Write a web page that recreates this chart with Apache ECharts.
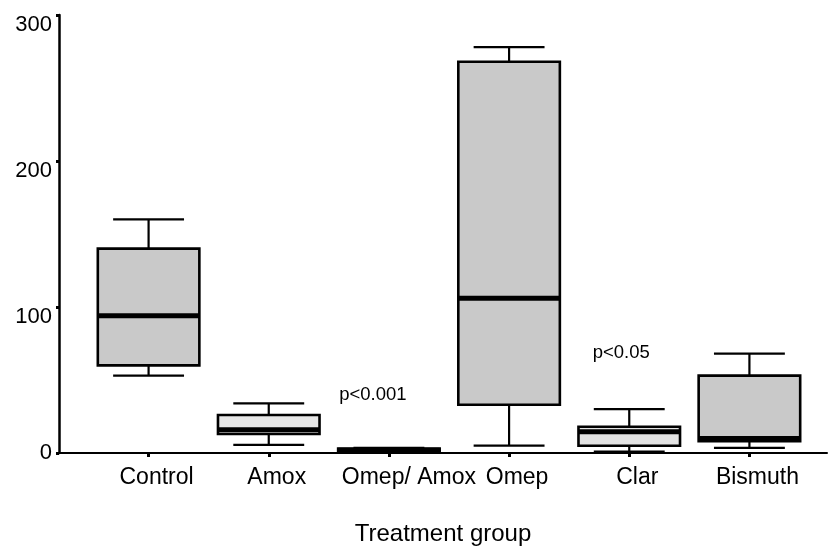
<!DOCTYPE html>
<html>
<head>
<meta charset="utf-8">
<script src="https://cdn.jsdelivr.net/npm/echarts@6/dist/echarts.min.js"></script>
<style>html,body{margin:0;padding:0;background:#fff;}#chart{width:829px;height:553px;}</style>
</head>
<body>
<div id="chart"></div>
<script>
// ---- data ----
const categories = ['Control', 'Amox', 'Omep/ Amox', 'Omep', 'Clar', 'Bismuth'];
const lowerWhisker = [53, 5.5, 0.5, 5, 1, 3.5];
const q1 = [60, 13, 0.8, 33, 5, 8];
const median = [94, 16, 1.8, 106, 14.5, 10];
const q3 = [140, 26, 3, 268, 18, 53];
const upperWhisker = [160, 34, 3.5, 278, 30, 68];
const yTicks = [0, 100, 200, 300];
const pTexts = ['p<0.001', 'p<0.05'];
const pCategories = [2, 4];
const pValues = [40, 68.5];

// ---- styles ----
const FONT = 'Liberation Sans, Arial, sans-serif';
const boxFills = ['#c9c9c9', '#e6e6e6', '#000000', '#c9c9c9', '#e3e3e3', '#c9c9c9'];
const pOffsets = [[-16, 0], [-8, 0]];

const boxData = categories.map((c, i) => [i, lowerWhisker[i], q1[i], median[i], q3[i], upperWhisker[i]]);
const pData = pTexts.map((t, i) => [pCategories[i], pValues[i], i]);

function renderBox(params, api) {
  const i = api.value(0);
  const band = api.size([1, 0])[0];
  const x = api.coord([i, 0])[0];
  const yLo = api.coord([i, api.value(1)])[1];
  const yQ1 = api.coord([i, api.value(2)])[1];
  const yMed = api.coord([i, api.value(3)])[1];
  const yQ3 = api.coord([i, api.value(4)])[1];
  const yHi = api.coord([i, api.value(5)])[1];
  const bw = band * 0.845;
  const cw = band * 0.59;
  const line = { stroke: '#000', lineWidth: 2.2 };
  return {
    type: 'group',
    children: [
      { type: 'line', shape: { x1: x, y1: yQ3, x2: x, y2: yHi }, style: line },
      { type: 'line', shape: { x1: x, y1: yQ1, x2: x, y2: yLo }, style: line },
      { type: 'line', shape: { x1: x - cw / 2, y1: yHi, x2: x + cw / 2, y2: yHi }, style: line },
      { type: 'line', shape: { x1: x - cw / 2, y1: yLo, x2: x + cw / 2, y2: yLo }, style: line },
      { type: 'rect', shape: { x: x - bw / 2, y: yQ3, width: bw, height: yQ1 - yQ3 },
        style: { fill: boxFills[i], stroke: '#000', lineWidth: 2.6 } },
      { type: 'line', shape: { x1: x - bw / 2, y1: yMed, x2: x + bw / 2, y2: yMed },
        style: { stroke: '#000', lineWidth: 5 } }
    ]
  };
}

function renderText(params, api) {
  const i = api.value(0);
  const k = api.value(2);
  const p = api.coord([i, api.value(1)]);
  return {
    type: 'text',
    x: p[0] + pOffsets[k][0],
    y: p[1] + pOffsets[k][1],
    style: { text: pTexts[k], fill: '#000', font: '18.5px ' + FONT, align: 'center', verticalAlign: 'middle' }
  };
}

const chart = echarts.init(document.getElementById('chart'), null, { renderer: 'canvas' });
chart.setOption({
  animation: false,
  backgroundColor: '#fff',
  grid: [
    { left: 88.5, right: 19.5, top: 15, bottom: 100 },
    { left: 59, right: 2, top: 15, bottom: 100 }
  ],
  xAxis: [
    {
      type: 'category', gridIndex: 0, data: categories,
      axisLine: { show: false },
      axisTick: { show: true, alignWithLabel: true, length: 4, lineStyle: { color: '#000', width: 3 } },
      axisLabel: {
        margin: 13, color: '#000', fontFamily: FONT, fontSize: 23, interval: 0,
        formatter: v => (v === 'Omep/ Amox' ? '{b|' + v + '}' : '{a|' + v + '}'),
        rich: {
          a: { fontFamily: FONT, fontSize: 23, color: '#000', padding: [0, 0, 0, 16] },
          b: { fontFamily: FONT, fontSize: 23, color: '#000', padding: [0, 0, 0, 40] }
        }
      },
      splitLine: { show: false }
    },
    {
      type: 'value', gridIndex: 1, min: 0, max: 1,
      axisLine: { show: true, lineStyle: { color: '#000', width: 2 } },
      axisTick: { show: false }, axisLabel: { show: false }, splitLine: { show: false },
      name: 'Treatment group', nameLocation: 'middle', nameGap: 69,
      nameTextStyle: { color: '#000', fontFamily: FONT, fontSize: 24 }
    }
  ],
  yAxis: [
    {
      type: 'value', gridIndex: 0, min: 0, max: 300, interval: 100, offset: 29.5,
      axisLine: { show: true, lineStyle: { color: '#000', width: 2.5 } },
      axisTick: { show: true, length: 3, lineStyle: { color: '#000', width: 3 } },
      axisLabel: {
        margin: 7, color: '#000', fontFamily: FONT, fontSize: 22,
        customValues: yTicks,
        formatter: v => (v === 0 ? '{z|' + v + '}' : '{a|' + v + '}'),
        rich: {
          a: { fontFamily: FONT, fontSize: 22, color: '#000', padding: [20, 0, 0, 0] },
          z: { fontFamily: FONT, fontSize: 22, color: '#000', padding: [0, 0, 0, 0] }
        }
      },
      splitLine: { show: false }
    },
    { type: 'value', gridIndex: 1, min: 0, max: 300, show: false }
  ],
  series: [
    { type: 'custom', name: 'box', xAxisIndex: 0, yAxisIndex: 0, renderItem: renderBox, data: boxData, z: 3 },
    { type: 'custom', name: 'p', xAxisIndex: 0, yAxisIndex: 0, renderItem: renderText, data: pData, z: 4 }
  ]
});
</script>
</body>
</html>
